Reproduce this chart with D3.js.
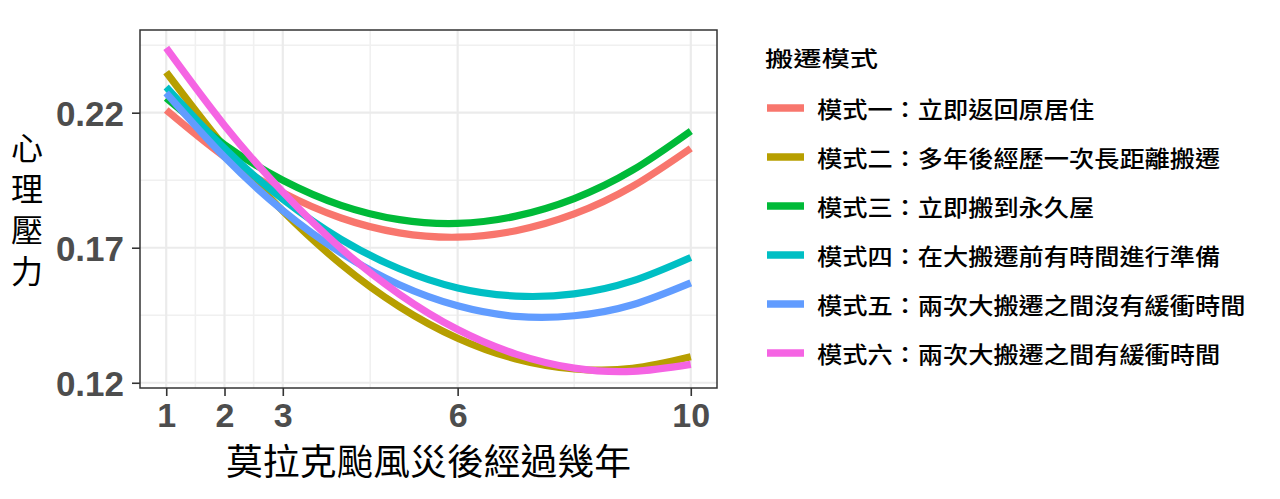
<!DOCTYPE html>
<html>
<head>
<meta charset="utf-8">
<script src="https://cdn.jsdelivr.net/npm/d3@7"></script>
<style>
  html, body { margin: 0; padding: 0; background: #fff; }
  svg { display: block; }
</style>
</head>
<body>
<svg id="chart" width="1280" height="499"></svg>
<script>
// ---- data ----
const years = [1, 2, 3, 4, 5, 6, 7, 8, 9, 10];
const xTicks = [1, 2, 3, 6, 10];
const xMinor = [1.5, 2.5, 4.5, 8];
const yTicks = [0.12, 0.17, 0.22];
const yTickLabels = ["0.12", "0.17", "0.22"];
const yMinor = [0.145, 0.195, 0.245];

const seriesNames = [
  "模式一：立即返回原居住",
  "模式二：多年後經歷一次長距離搬遷",
  "模式三：立即搬到永久屋",
  "模式四：在大搬遷前有時間進行準備",
  "模式五：兩次大搬遷之間沒有緩衝時間",
  "模式六：兩次大搬遷之間有緩衝時間"
];
const seriesColors = ["#F8766D", "#B79F00", "#00BA38", "#00BFC4", "#619CFF", "#F564E3"];

const mode1 = [0.2210, 0.2037, 0.1904, 0.1810, 0.1755, 0.1739, 0.1763, 0.1825, 0.1927, 0.2068];
const mode2 = [0.2350, 0.2073, 0.1836, 0.1639, 0.1482, 0.1365, 0.1288, 0.1251, 0.1253, 0.1296];
const mode3 = [0.2254, 0.2082, 0.1950, 0.1857, 0.1804, 0.1790, 0.1817, 0.1882, 0.1987, 0.2132];
const mode4 = [0.2295, 0.2068, 0.1880, 0.1731, 0.1622, 0.1551, 0.1521, 0.1529, 0.1577, 0.1664];
const mode5 = [0.2273, 0.2036, 0.1838, 0.1681, 0.1563, 0.1485, 0.1446, 0.1448, 0.1489, 0.1570];
const mode6 = [0.2440, 0.2153, 0.1906, 0.1697, 0.1528, 0.1397, 0.1306, 0.1254, 0.1242, 0.1268];
const seriesValues = [mode1, mode2, mode3, mode4, mode5, mode6];

const xTitle = "莫拉克颱風災後經過幾年";
const yTitle = "心理壓力";
const legendTitle = "搬遷模式";

// ---- layout ----
const svg = d3.select("#chart");
const panel = { left: 140, right: 717, top: 30, bottom: 388 };
const x = d3.scaleLinear().domain([0.55, 10.45]).range([panel.left, panel.right]);
const y = d3.scaleLinear().domain([0.11806, 0.25062]).range([panel.bottom, panel.top]);

const cjk = "'Noto Sans CJK TC', 'Noto Sans CJK SC', sans-serif";
const num = "'Liberation Sans', Arial, sans-serif";

// grid
const g = svg.append("g");
g.selectAll(".ymin").data(yMinor).join("line")
  .attr("x1", panel.left).attr("x2", panel.right)
  .attr("y1", d => y(d)).attr("y2", d => y(d))
  .attr("stroke", "#F0F0F0").attr("stroke-width", 1.6);
g.selectAll(".xmin").data(xMinor).join("line")
  .attr("y1", panel.top).attr("y2", panel.bottom)
  .attr("x1", d => x(d)).attr("x2", d => x(d))
  .attr("stroke", "#F0F0F0").attr("stroke-width", 1.6);
g.selectAll(".ymaj").data(yTicks).join("line")
  .attr("x1", panel.left).attr("x2", panel.right)
  .attr("y1", d => y(d)).attr("y2", d => y(d))
  .attr("stroke", "#EBEBEB").attr("stroke-width", 2.2);
g.selectAll(".xmaj").data(xTicks).join("line")
  .attr("y1", panel.top).attr("y2", panel.bottom)
  .attr("x1", d => x(d)).attr("x2", d => x(d))
  .attr("stroke", "#EBEBEB").attr("stroke-width", 2.2);

// lines
const line = d3.line().x((d, i) => x(years[i])).y(d => y(d)).curve(d3.curveNatural);
svg.append("g").selectAll("path").data(seriesValues).join("path")
  .attr("d", d => line(d))
  .attr("fill", "none")
  .attr("stroke", (d, i) => seriesColors[i])
  .attr("stroke-width", 7.2)
  .attr("stroke-linecap", "butt");

// panel border
svg.append("rect")
  .attr("x", panel.left).attr("y", panel.top)
  .attr("width", panel.right - panel.left).attr("height", panel.bottom - panel.top)
  .attr("fill", "none").attr("stroke", "#333333").attr("stroke-width", 1.5);

// axes
const xAxis = d3.axisBottom(x).tickValues(xTicks).tickSize(8).tickPadding(7).tickFormat(d3.format("d"));
const xg = svg.append("g").attr("transform", `translate(0,${panel.bottom})`).call(xAxis);
xg.select(".domain").remove();
xg.selectAll(".tick line").attr("stroke", "#333333").attr("stroke-width", 1.6);
xg.selectAll(".tick text")
  .attr("fill", "#4D4D4D").attr("font-family", num).attr("font-weight", "bold")
  .attr("font-size", 34).attr("dy", "0.71em");

const yAxis = d3.axisLeft(y).tickValues(yTicks).tickSize(8).tickPadding(8)
  .tickFormat((d, i) => yTickLabels[i]);
const yg = svg.append("g").attr("transform", `translate(${panel.left},0)`).call(yAxis);
yg.select(".domain").remove();
yg.selectAll(".tick line").attr("stroke", "#333333").attr("stroke-width", 1.6);
yg.selectAll(".tick text")
  .attr("fill", "#4D4D4D").attr("font-family", num).attr("font-weight", "bold")
  .attr("font-size", 35).attr("dy", "0.36em");

// axis titles
svg.append("text")
  .attr("x", (panel.left + panel.right) / 2).attr("y", 459)
  .attr("text-anchor", "middle").attr("dominant-baseline", "central")
  .attr("font-family", cjk).attr("font-size", 36).attr("fill", "#000")
  .attr("textLength", 405).attr("lengthAdjust", "spacingAndGlyphs")
  .text(xTitle);

svg.append("text")
  .attr("x", 27).attr("y", 132)
  .style("writing-mode", "vertical-rl")
  .style("text-orientation", "upright")
  .attr("letter-spacing", 9)
  .attr("font-family", cjk).attr("font-size", 32).attr("fill", "#000")
  .text(yTitle);

// legend
const lg = svg.append("g");
lg.append("text")
  .attr("x", 765).attr("y", 57)
  .attr("dominant-baseline", "central")
  .attr("font-family", cjk).attr("font-size", 21).attr("font-weight", 500).attr("fill", "#000")
  .attr("textLength", 113).attr("lengthAdjust", "spacingAndGlyphs")
  .text(legendTitle);

const rows = lg.selectAll(".row").data(seriesNames).join("g")
  .attr("transform", (d, i) => `translate(0,${108 + i * 49})`);
rows.append("line")
  .attr("x1", 767).attr("x2", 804).attr("y1", 0).attr("y2", 0)
  .attr("stroke", (d, i) => seriesColors[i]).attr("stroke-width", 7.5);
rows.append("text")
  .attr("x", 817).attr("y", 0)
  .attr("dominant-baseline", "central")
  .attr("font-family", cjk).attr("font-size", 23).attr("font-weight", 500).attr("fill", "#000")
  .attr("textLength", d => d.length * 25.2).attr("lengthAdjust", "spacingAndGlyphs")
  .text(d => d);
</script>
</body>
</html>
